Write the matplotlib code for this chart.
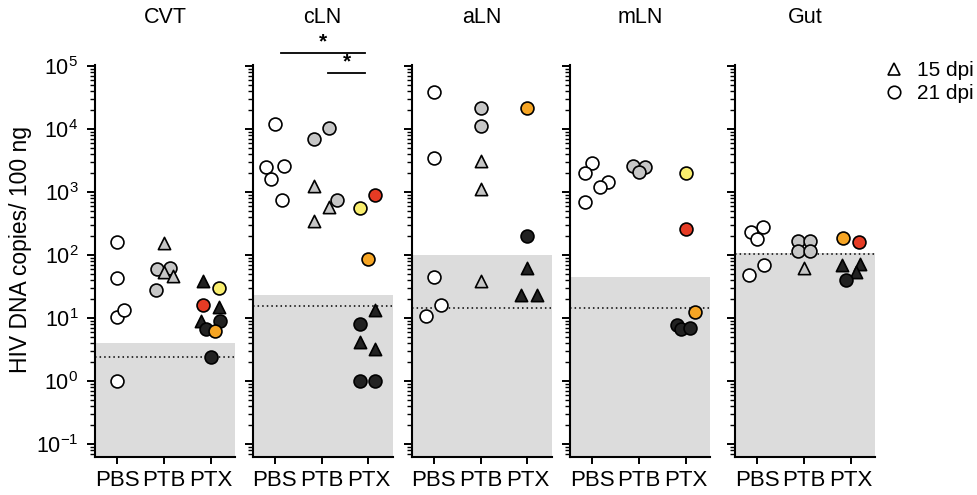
import numpy as np
import matplotlib
matplotlib.use('Agg')
import matplotlib.pyplot as plt
from matplotlib.lines import Line2D
from matplotlib.ticker import FixedLocator, LogLocator, NullFormatter

plt.rcParams['font.family'] = ['Liberation Sans', 'DejaVu Sans']
plt.rcParams['mathtext.default'] = 'regular'

# categories
groups = ['PBS', 'PTB', 'PTX']
tissues = ['CVT', 'cLN', 'aLN', 'mLN', 'Gut']

# CVT
cvt_group = [0, 0, 0, 0, 0, 1, 1, 1, 1, 1, 1, 2, 2, 2, 2, 2, 2, 2, 2, 2]
cvt_jitter = [0, 0, 0, 0.15, 0, 0, -0.14, 0.14, 0, 0.19, -0.17,
              -0.16, 0.17, -0.16, 0.17, -0.2, 0.2, -0.1, 0.09, 0]
cvt_value = [160, 43, 10.5, 13.5, 1.0, 158, 60, 63, 53, 47, 28,
             39, 30, 16, 15, 9.1, 9, 6.8, 6.3, 2.45]
cvt_dpi = [21, 21, 21, 21, 21, 15, 21, 21, 15, 15, 21,
           15, 21, 21, 15, 15, 21, 21, 21, 21]
cvt_fill = list('wwwww') + list('gggggg') + list('kyrkkkkok')

# cLN
cln_group = [0] * 5 + [1] * 6 + [2] * 9
cln_jitter = [0, -0.19, 0.19, -0.085, 0.16, 0.155, -0.17, -0.17, 0.33, 0.155, -0.17,
              0.14, -0.18, 0, 0.14, -0.18, -0.18, 0.14, -0.18, 0.14]
cln_value = [12000, 2500, 2550, 1630, 740, 10400, 6800, 1230, 750, 570, 345,
             910, 560, 86, 13.3, 8, 4.2, 3.2, 1.0, 1.0]
cln_dpi = [21] * 5 + [21, 21, 15, 21, 15, 15] + [21, 21, 21, 15, 21, 15, 15, 21, 21]
cln_fill = list('wwwww') + list('gggggg') + list('ryokkkkkk')

# aLN
aln_group = [0] * 5 + [1] * 5 + [2] * 5
aln_jitter = [0, 0, 0, 0.16, -0.16, 0, 0, 0, 0, 0, 0, 0, 0, -0.14, 0.21]
aln_value = [39000, 3400, 45, 16.3, 10.7, 21500, 11000, 3100, 1120, 39,
             21500, 200, 63, 23.5, 23.5]
aln_dpi = [21] * 5 + [21, 21, 15, 15, 15] + [21, 21, 15, 15, 15]
aln_fill = list('wwwww') + list('ggggg') + list('okkkk')

# mLN
mln_group = [0] * 5 + [1] * 3 + [2] * 6
mln_jitter = [0, -0.16, 0.34, 0.18, -0.16, -0.12, 0.14, 0, 0, 0, -0.18, -0.09, 0.09, 0.2]
mln_value = [2900, 2000, 1460, 1200, 700, 2600, 2460, 2040, 2000, 260, 7.9, 6.8, 6.9, 12.5]
mln_dpi = [21] * 14
mln_fill = list('wwwww') + list('ggg') + list('yrkkko')

# Gut
gut_group = [0] * 5 + [1] * 5 + [2] * 6
gut_jitter = [0.13, -0.12, 0, 0.16, -0.17, -0.13, 0.14, -0.13, 0.14, 0,
              -0.16, 0.17, -0.19, 0.2, 0.11, -0.09]
gut_value = [277, 230, 180, 70, 48, 165, 165, 118, 117, 62, 185, 162, 70, 72, 54, 40.5]
gut_dpi = [21] * 5 + [21, 21, 21, 21, 15] + [21, 21, 15, 15, 15, 21]
gut_fill = list('wwwww') + list('ggggg') + list('orkkkk')

# detection limits
shade_top = [4.0, 23.5, 100, 45, 107]
dotted_lod = [2.4, 15.4, 14.3, 14.3, 104]

panels = [
    (cvt_group, cvt_jitter, cvt_value, cvt_dpi, cvt_fill),
    (cln_group, cln_jitter, cln_value, cln_dpi, cln_fill),
    (aln_group, aln_jitter, aln_value, aln_dpi, aln_fill),
    (mln_group, mln_jitter, mln_value, mln_dpi, mln_fill),
    (gut_group, gut_jitter, gut_value, gut_dpi, gut_fill),
]

colors = {'w': 'white', 'g': '#c6c6c6', 'k': '#222222',
          'r': '#e53b24', 'y': '#f9ee6e', 'o': '#f6a524'}
markers = {15: '^', 21: 'o'}
sizes = {15: 78, 21: 86}

W, H = 978, 495
fig = plt.figure(figsize=(W / 100, H / 100), dpi=100)
lefts = [95, 252.7, 411.7, 570, 735]

for i, (name, (grp, jit, val, dpi, fill)) in enumerate(zip(tissues, panels)):
    ax = fig.add_axes([lefts[i] / W, 38 / H, 140 / W, 392 / H])
    ax.set_yscale('log')
    ax.set_ylim(10 ** -1.2, 1.03e5)
    ax.set_xlim(-0.47, 2.52)
    ax.axhspan(1e-3, shade_top[i], color='#dcdcdc', zorder=0, lw=0)
    ax.axhline(dotted_lod[i], color='black', ls=(0, (1, 2)), lw=1.1, zorder=1)

    for g, j, v, d, f in zip(grp, jit, val, dpi, fill):
        ax.scatter(g + j, v, marker=markers[d], s=sizes[d], facecolor=colors[f],
                   edgecolor='black', linewidth=1.2, zorder=3)

    ax.set_xticks(range(len(groups)))
    ax.set_xticklabels(groups, fontsize=16)
    ax.yaxis.set_major_locator(FixedLocator([10.0 ** k for k in range(-1, 6)]))
    ax.yaxis.set_minor_locator(LogLocator(base=10, subs=np.arange(2, 10), numticks=20))
    ax.yaxis.set_minor_formatter(NullFormatter())
    ax.tick_params(axis='x', length=5, width=1.4, pad=4)
    ax.tick_params(axis='y', which='major', length=6, width=1.4, labelsize=15.5, pad=6)
    ax.tick_params(axis='y', which='minor', length=3.3, width=1)
    for s in ['top', 'right']:
        ax.spines[s].set_visible(False)
    for s in ['left', 'bottom']:
        ax.spines[s].set_linewidth(1.5)

    ax.text(0.5, 1.12, name, transform=ax.transAxes, ha='center', va='center',
            fontsize=15.5)

    if i == 0:
        ax.set_ylabel('HIV DNA copies/ 100 ng', fontsize=16.5)
        ax.yaxis.set_label_coords(-0.45, 0.53)
    else:
        ax.tick_params(axis='y', which='both', labelleft=False)

    if name == 'cLN':
        # significance bars PBS vs PTX and PTB vs PTX
        for (a, b), yb in zip([(0, 2), (1, 2)], [1.6e5, 7.7e4]):
            x0, x1 = a + 0.14, b - 0.07
            ax.plot([x0, x1], [yb, yb], color='black', lw=1.3, clip_on=False)
            ax.text((x0 + x1) / 2, yb * 1.05, '*', ha='center', va='bottom',
                    fontsize=15, fontweight='bold', clip_on=False)

handles = [Line2D([], [], marker='^', ls='none', markersize=9, markerfacecolor='white',
                  markeredgecolor='black', markeredgewidth=1.2),
           Line2D([], [], marker='o', ls='none', markersize=9, markerfacecolor='white',
                  markeredgecolor='black', markeredgewidth=1.2)]
fig.legend(handles, ['15 dpi', '21 dpi'], loc='upper left', bbox_to_anchor=(886 / W, 1 - 61 / H),
           frameon=False, fontsize=15, handlelength=0.8, handletextpad=0.7,
           labelspacing=0.2, borderpad=0, borderaxespad=0)

fig.savefig('out.png', dpi=100)
